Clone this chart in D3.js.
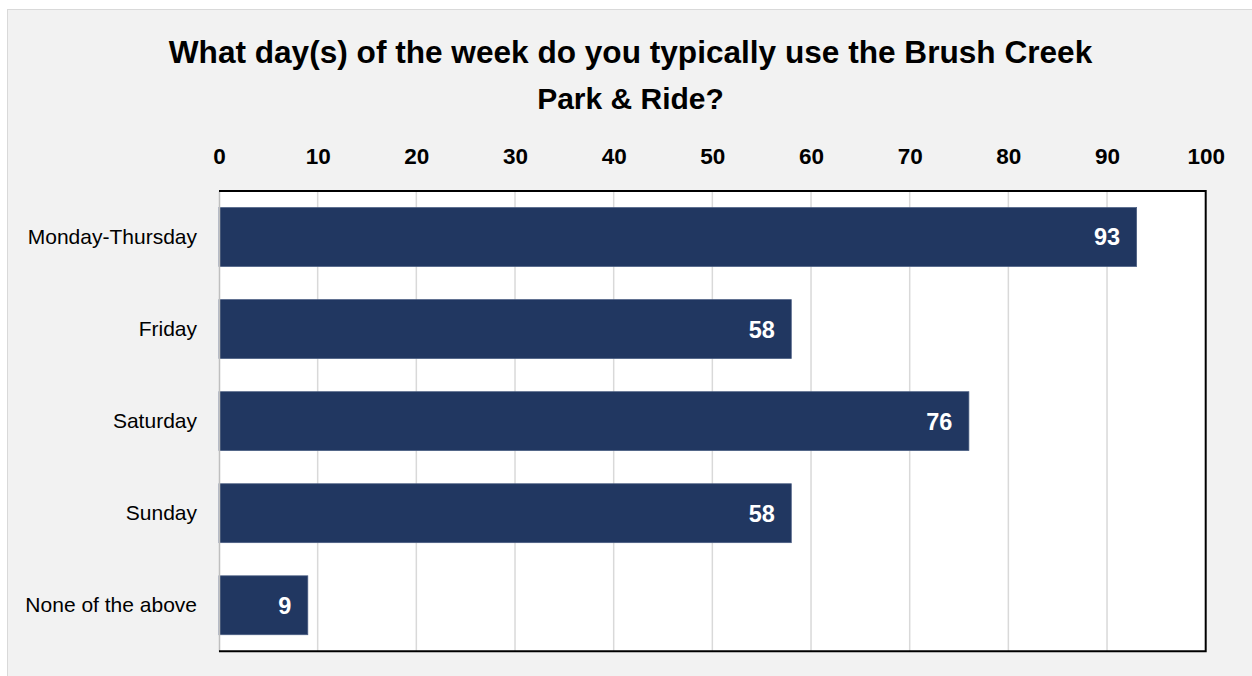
<!DOCTYPE html>
<html>
<head>
<meta charset="utf-8">
<script src="https://cdn.jsdelivr.net/npm/d3@7"></script>
<style>
  html, body { margin: 0; padding: 0; background: #ffffff; }
  svg { display: block; }
</style>
</head>
<body>
<svg id="chart" width="1252" height="676"></svg>
<script>
// Survey responses: days of the week riders use the Brush Creek Park & Ride
const categories = ["Monday-Thursday", "Friday", "Saturday", "Sunday", "None of the above"];
const counts = [93, 58, 76, 58, 9];
const tickValues = [0, 10, 20, 30, 40, 50, 60, 70, 80, 90, 100];
const titleLines = ["What day(s) of the week do you typically use the Brush Creek", "Park & Ride?"];

const W = 1252, H = 676;
const plot = { left: 219, right: 1205.7, top: 191, bottom: 651.3 };
const barColor = "#213761";

const svg = d3.select("#chart");

// Chart area background with a light frame
svg.append("rect")
  .attr("x", 7.5).attr("y", 9.5)
  .attr("width", W + 10).attr("height", H + 10)
  .attr("fill", "#f2f2f2")
  .attr("stroke", "#d9d9d9")
  .attr("stroke-width", 1);

// Title
svg.append("g")
  .selectAll("text")
  .data(titleLines)
  .join("text")
  .attr("x", 630.5)
  .attr("y", (d, i) => 63 + i * 46.3)
  .attr("text-anchor", "middle")
  .attr("font-family", "'Liberation Sans', Arial, sans-serif")
  .attr("font-weight", "bold")
  .attr("font-size", (d, i) => i === 0 ? 31.6 : 30)
  .attr("fill", "#000000")
  .text(d => d);

const x = d3.scaleLinear().domain([0, 100]).range([plot.left, plot.right]);
const y = d3.scaleBand().domain(categories).range([plot.top, plot.bottom])
  .paddingInner(0.36).paddingOuter(0.18);

// Plot area
svg.append("rect")
  .attr("x", plot.left).attr("y", plot.top)
  .attr("width", plot.right - plot.left).attr("height", plot.bottom - plot.top)
  .attr("fill", "#ffffff");

// Vertical gridlines
svg.append("g")
  .selectAll("line")
  .data(tickValues.filter(v => v > 0 && v < 100))
  .join("line")
  .attr("x1", d => x(d)).attr("x2", d => x(d))
  .attr("y1", plot.top).attr("y2", plot.bottom)
  .attr("stroke", "#d9d9d9")
  .attr("stroke-width", 1.5);

// Top value axis
const xAxis = svg.append("g")
  .attr("transform", `translate(0,${plot.top})`)
  .call(d3.axisTop(x).tickValues(tickValues).tickSize(0).tickPadding(27).tickFormat(d3.format("d")));
xAxis.select(".domain").remove();
xAxis.selectAll("text")
  .attr("font-family", "'Liberation Sans', Arial, sans-serif")
  .attr("font-weight", "bold")
  .attr("font-size", 22.5)
  .attr("fill", "#000000");

// Bars
svg.append("g")
  .selectAll("rect")
  .data(categories.map((c, i) => ({ c, v: counts[i] })))
  .join("rect")
  .attr("x", x(0))
  .attr("y", d => y(d.c))
  .attr("width", d => x(d.v) - x(0))
  .attr("height", y.bandwidth())
  .attr("fill", barColor)
  .attr("stroke", "#4a5d82")
  .attr("stroke-width", 0.75);

// Value labels inside bar ends
svg.append("g")
  .selectAll("text")
  .data(categories.map((c, i) => ({ c, v: counts[i] })))
  .join("text")
  .attr("x", d => x(d.v) - 16.5)
  .attr("y", d => y(d.c) + y.bandwidth() / 2)
  .attr("dy", "0.36em")
  .attr("text-anchor", "end")
  .attr("font-family", "'Liberation Sans', Arial, sans-serif")
  .attr("font-weight", "bold")
  .attr("font-size", 23.5)
  .attr("fill", "#ffffff")
  .text(d => d.v);

// Category axis
const yAxis = svg.append("g")
  .attr("transform", `translate(${plot.left},0)`)
  .call(d3.axisLeft(y).tickSize(0).tickPadding(22));
yAxis.select(".domain")
  .attr("stroke", "#bfbfbf")
  .attr("stroke-width", 1.5);
yAxis.selectAll("text")
  .attr("font-family", "'Liberation Sans', Arial, sans-serif")
  .attr("font-size", 21)
  .attr("fill", "#000000");

// Plot frame: top, right and bottom edges
const frame = d3.path();
frame.moveTo(plot.left, plot.top);
frame.lineTo(plot.right, plot.top);
frame.lineTo(plot.right, plot.bottom);
frame.lineTo(plot.left, plot.bottom);
svg.append("path")
  .attr("d", frame.toString())
  .attr("fill", "none")
  .attr("stroke", "#000000")
  .attr("stroke-width", 2);
</script>
</body>
</html>
